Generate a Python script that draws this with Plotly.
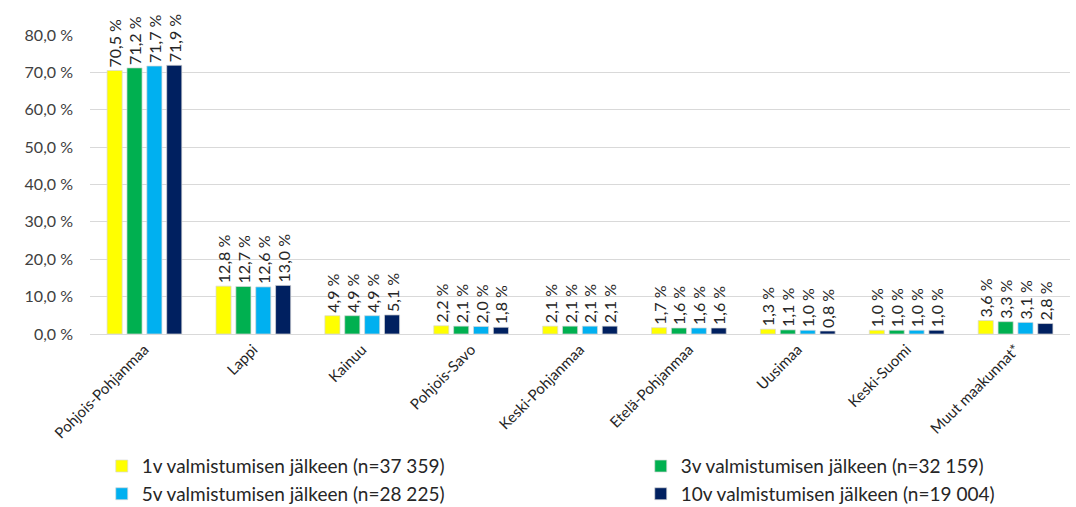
import plotly.graph_objects as go

categories = ["Pohjois-Pohjanmaa", "Lappi", "Kainuu", "Pohjois-Savo", "Keski-Pohjanmaa",
              "Etelä-Pohjanmaa", "Uusimaa", "Keski-Suomi", "Muut maakunnat*"]
series_names = ["1v valmistumisen jälkeen (n=37 359)", "3v valmistumisen jälkeen (n=32 159)",
                "5v valmistumisen jälkeen (n=28 225)", "10v valmistumisen jälkeen (n=19 004)"]
v1 = [70.5, 12.8, 4.9, 2.2, 2.1, 1.7, 1.3, 1.0, 3.6]
v3 = [71.2, 12.7, 4.9, 2.1, 2.1, 1.6, 1.1, 1.0, 3.3]
v5 = [71.7, 12.6, 4.9, 2.0, 2.1, 1.6, 1.0, 1.0, 3.1]
v10 = [71.9, 13.0, 5.1, 1.8, 2.1, 1.6, 0.8, 1.0, 2.8]
colors = ["#FFFF00", "#00B050", "#00B0F0", "#002060"]
legend_ids = ["legend", "legend2", "legend", "legend2"]
y_ticks = [0, 10, 20, 30, 40, 50, 60, 70, 80]
y_ticktext = [f"{t:.1f}".replace(".", ",") + " %" for t in y_ticks]

font = "Lato, Noto Sans, sans-serif"
fig = go.Figure()
for name, vals, c, lg in zip(series_names, [v1, v3, v5, v10], colors, legend_ids):
    fig.add_trace(go.Bar(
        x=categories, y=vals, name=name, legend=lg,
        marker=dict(color=c, line=dict(color="#D9D9D9", width=0.7)),
        text=[f"{v:.1f}".replace(".", ",") + " %" for v in vals],
        textposition="outside", textangle=-90, constraintext="none",
        textfont=dict(family=font, size=16, color="#262626"),
        cliponaxis=False,
    ))

fig.update_layout(
    width=1076, height=507,
    margin=dict(l=90, r=6, t=35, b=173),
    paper_bgcolor="white", plot_bgcolor="white",
    barmode="group", bargap=0.27, bargroupgap=0.24,
    font=dict(family=font, size=15, color="#262626"),
    yaxis=dict(range=[0, 80], tickvals=y_ticks, ticktext=y_ticktext, automargin=False,
               showgrid=True, gridcolor="#D9D9D9", gridwidth=1, zeroline=False,
               showline=False, tickfont=dict(size=16, color="#404040"), ticks="",
               ticklabelstandoff=16),
    xaxis=dict(tickangle=-45, showline=True, linecolor="#D9D9D9", linewidth=1,
               automargin=False, tickfont=dict(size=15, color="#262626")),
    legend=dict(orientation="v", x=0.012, xanchor="left", yref="container", y=0.118,
                yanchor="top",
                font=dict(size=19, color="#262626"), itemwidth=30, tracegroupgap=0,
                bgcolor="rgba(0,0,0,0)"),
    legend2=dict(orientation="v", x=0.562, xanchor="left", yref="container", y=0.118,
                 yanchor="top",
                 font=dict(size=19, color="#262626"), itemwidth=30, tracegroupgap=0,
                 bgcolor="rgba(0,0,0,0)"),
    showlegend=True,
)
fig.write_html("out.html", config={"displayModeBar": False},
               post_script="document.body.style.margin='0';document.body.style.overflow='hidden';")
